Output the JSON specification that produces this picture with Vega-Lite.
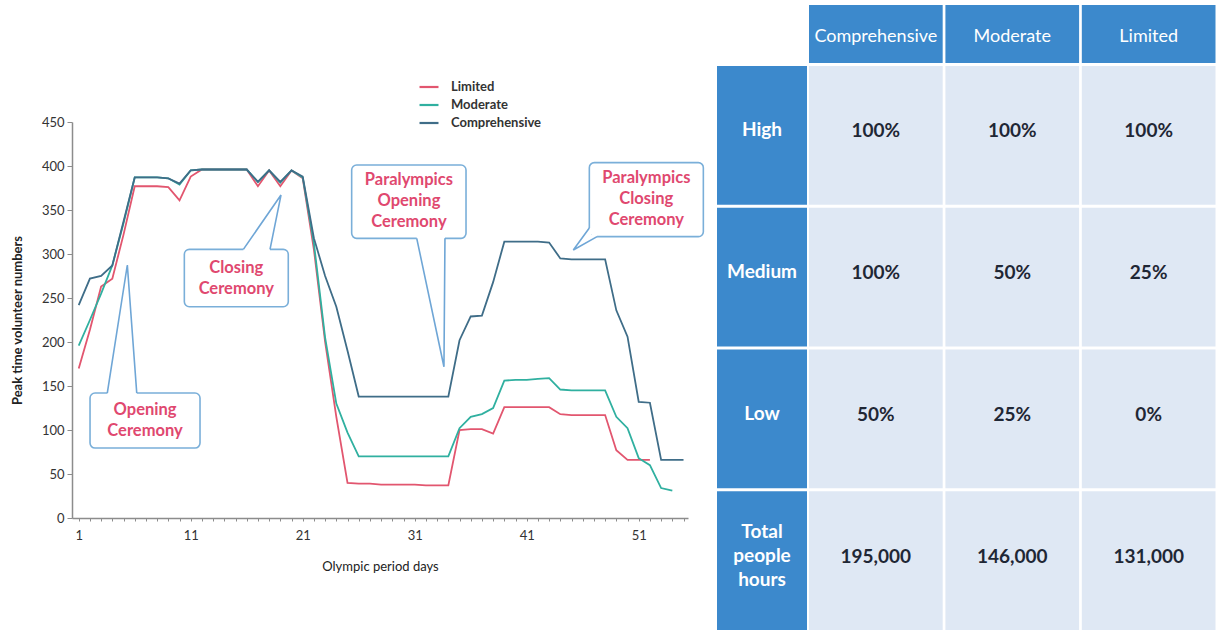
{
  "$schema": "https://vega.github.io/schema/vega-lite/v6.json",
  "width": 1147,
  "height": 396,
  "autosize": {"type": "none"},
  "padding": {"left": 72, "top": 122, "right": 0, "bottom": 112},
  "background": "white",
  "config": {"view": {"stroke": null}, "font": "Lato"},
  "datasets": {
    "series": [
      {"x":1,"Limited":170,"Moderate":196,"Comprehensive":242},
      {"x":2,"Limited":214,"Moderate":225,"Comprehensive":272},
      {"x":3,"Limited":263,"Moderate":255,"Comprehensive":275},
      {"x":4,"Limited":272,"Moderate":287,"Comprehensive":287},
      {"x":5,"Limited":322,"Moderate":335,"Comprehensive":337},
      {"x":6,"Limited":377,"Moderate":387,"Comprehensive":387},
      {"x":7,"Limited":377,"Moderate":387,"Comprehensive":387},
      {"x":8,"Limited":377,"Moderate":387,"Comprehensive":387},
      {"x":9,"Limited":376,"Moderate":386,"Comprehensive":386},
      {"x":10,"Limited":361,"Moderate":379,"Comprehensive":380},
      {"x":11,"Limited":388,"Moderate":395,"Comprehensive":395},
      {"x":12,"Limited":396,"Moderate":396,"Comprehensive":396},
      {"x":13,"Limited":396,"Moderate":396,"Comprehensive":396},
      {"x":14,"Limited":396,"Moderate":396,"Comprehensive":396},
      {"x":15,"Limited":396,"Moderate":396,"Comprehensive":396},
      {"x":16,"Limited":396,"Moderate":396,"Comprehensive":396},
      {"x":17,"Limited":377,"Moderate":382,"Comprehensive":382},
      {"x":18,"Limited":395,"Moderate":395,"Comprehensive":395},
      {"x":19,"Limited":377,"Moderate":381,"Comprehensive":382},
      {"x":20,"Limited":395,"Moderate":395,"Comprehensive":395},
      {"x":21,"Limited":386,"Moderate":387,"Comprehensive":388},
      {"x":22,"Limited":305,"Moderate":312,"Comprehensive":318},
      {"x":23,"Limited":200,"Moderate":205,"Comprehensive":275},
      {"x":24,"Limited":115,"Moderate":130,"Comprehensive":240},
      {"x":25,"Limited":40,"Moderate":97,"Comprehensive":190},
      {"x":26,"Limited":39,"Moderate":70,"Comprehensive":138},
      {"x":27,"Limited":39,"Moderate":70,"Comprehensive":138},
      {"x":28,"Limited":38,"Moderate":70,"Comprehensive":138},
      {"x":29,"Limited":38,"Moderate":70,"Comprehensive":138},
      {"x":30,"Limited":38,"Moderate":70,"Comprehensive":138},
      {"x":31,"Limited":38,"Moderate":70,"Comprehensive":138},
      {"x":32,"Limited":37,"Moderate":70,"Comprehensive":138},
      {"x":33,"Limited":37,"Moderate":70,"Comprehensive":138},
      {"x":34,"Limited":37,"Moderate":70,"Comprehensive":138},
      {"x":35,"Limited":100,"Moderate":102,"Comprehensive":202},
      {"x":36,"Limited":101,"Moderate":115,"Comprehensive":229},
      {"x":37,"Limited":101,"Moderate":118,"Comprehensive":230},
      {"x":38,"Limited":96,"Moderate":125,"Comprehensive":268},
      {"x":39,"Limited":126,"Moderate":156,"Comprehensive":314},
      {"x":40,"Limited":126,"Moderate":157,"Comprehensive":314},
      {"x":41,"Limited":126,"Moderate":157,"Comprehensive":314},
      {"x":42,"Limited":126,"Moderate":158,"Comprehensive":314},
      {"x":43,"Limited":126,"Moderate":159,"Comprehensive":313},
      {"x":44,"Limited":118,"Moderate":146,"Comprehensive":295},
      {"x":45,"Limited":117,"Moderate":145,"Comprehensive":294},
      {"x":46,"Limited":117,"Moderate":145,"Comprehensive":294},
      {"x":47,"Limited":117,"Moderate":145,"Comprehensive":294},
      {"x":48,"Limited":117,"Moderate":145,"Comprehensive":294},
      {"x":49,"Limited":77,"Moderate":115,"Comprehensive":236},
      {"x":50,"Limited":66,"Moderate":102,"Comprehensive":206},
      {"x":51,"Limited":66,"Moderate":68,"Comprehensive":132},
      {"x":52,"Limited":66,"Moderate":60,"Comprehensive":131},
      {"x":53,"Moderate":34,"Comprehensive":66},
      {"x":54,"Moderate":31,"Comprehensive":66},
      {"x":55,"Comprehensive":66}
    ],
    "boxes": [
      {"id":"A","x":2.01,"x2":11.83,"y":142.0,"y2":79.5},
      {"id":"B","x":10.43,"x2":19.71,"y":305.3,"y2":240.1},
      {"id":"C","x":25.37,"x2":35.58,"y":401.1,"y2":317.8},
      {"id":"D","x":46.59,"x2":56.77,"y":403.8,"y2":319.7}
    ],
    "gaps": [
      {"id":"A","o":1,"x":3.55,"y":142.0},{"id":"A","o":2,"x":6.18,"y":142.0},
      {"id":"B","o":1,"x":15.7,"y":305.3},{"id":"B","o":2,"x":18.08,"y":305.3},
      {"id":"C","o":1,"x":31.18,"y":317.8},{"id":"C","o":2,"x":33.7,"y":317.8},
      {"id":"D","o":1,"x":46.59,"y":329.5},{"id":"D","o":2,"x":46.59,"y":319.7},{"id":"D","o":3,"x":47.28,"y":319.7}
    ],
    "wedges": [
      {"id":"A","o":1,"x":3.55,"y":142.0},{"id":"A","o":2,"x":5.34,"y":287.5},{"id":"A","o":3,"x":6.18,"y":142.0},
      {"id":"B","o":1,"x":15.7,"y":305.3},{"id":"B","o":2,"x":19.06,"y":367.0},{"id":"B","o":3,"x":18.08,"y":305.3},
      {"id":"C","o":1,"x":31.18,"y":317.8},{"id":"C","o":2,"x":33.61,"y":171.9},{"id":"C","o":3,"x":33.7,"y":317.8},
      {"id":"D","o":1,"x":46.59,"y":329.5},{"id":"D","o":2,"x":45.16,"y":304.5},{"id":"D","o":3,"x":47.28,"y":319.7}
    ],
    "notes": [
      {"x":6.92,"y":122.7,"t":"Opening\nCeremony"},
      {"x":15.07,"y":284.1,"t":"Closing\nCeremony"},
      {"x":30.48,"y":384.1,"t":"Paralympics\nOpening\nCeremony"},
      {"x":51.68,"y":386.4,"t":"Paralympics\nClosing\nCeremony"}
    ],
    "headers": [
      {"col":"Comprehensive","r":"head"},
      {"col":"Moderate","r":"head"},
      {"col":"Limited","r":"head"}
    ],
    "rowlabels": [
      {"row":"High","c":"lab","label":"High"},
      {"row":"Medium","c":"lab","label":"Medium"},
      {"row":"Low","c":"lab","label":"Low"},
      {"row":"Total","c":"lab","label":"Total\npeople\nhours"}
    ],
    "cells": [
      {"row":"High","col":"Comprehensive","val":"100%"},
      {"row":"High","col":"Moderate","val":"100%"},
      {"row":"High","col":"Limited","val":"100%"},
      {"row":"Medium","col":"Comprehensive","val":"100%"},
      {"row":"Medium","col":"Moderate","val":"50%"},
      {"row":"Medium","col":"Limited","val":"25%"},
      {"row":"Low","col":"Comprehensive","val":"50%"},
      {"row":"Low","col":"Moderate","val":"25%"},
      {"row":"Low","col":"Limited","val":"0%"},
      {"row":"Total","col":"Comprehensive","val":"195,000"},
      {"row":"Total","col":"Moderate","val":"146,000"},
      {"row":"Total","col":"Limited","val":"131,000"}
    ]
  },
  "layer": [
    {
      "encoding": {
        "x": {
          "field": "x", "type": "quantitative",
          "scale": {"domain": [0.4, 55.4], "range": [0, 616], "nice": false, "zero": false},
          "axis": {
            "title": "Olympic period days",
            "values": [1,2,3,4,5,6,7,8,9,10,11,12,13,14,15,16,17,18,19,20,21,22,23,24,25,26,27,28,29,30,31,32,33,34,35,36,37,38,39,40,41,42,43,44,45,46,47,48,49,50,51,52,53,54,55],
            "labelExpr": "(datum.value - 1) % 10 === 0 ? datum.label : ''",
            "labelOverlap": false, "labelFlush": false, "grid": false,
            "tickSize": 3, "labelPadding": 8, "titlePadding": 18,
            "labelFontSize": 13, "titleFontSize": 13, "titleFontWeight": "normal",
            "labelColor": "#333333", "titleColor": "#222222",
            "domainColor": "#8c8c8c", "tickColor": "#8c8c8c", "domainWidth": 1.5
          }
        },
        "y": {
          "field": "y", "type": "quantitative",
          "scale": {"domain": [0, 450], "nice": false},
          "axis": {
            "title": "Peak time volunteer numbers",
            "values": [0,50,100,150,200,250,300,350,400,450],
            "grid": false, "tickSize": 5, "labelPadding": 3, "titlePadding": 17,
            "labelFontSize": 13, "titleFontSize": 13, "titleFontWeight": "bold",
            "labelColor": "#333333", "titleColor": "#222222",
            "domainColor": "#8c8c8c", "tickColor": "#8c8c8c", "domainWidth": 1.5
          }
        }
      },
      "layer": [
        {
          "data": {"name": "series"},
          "transform": [
            {"fold": ["Limited", "Moderate", "Comprehensive"], "as": ["s", "y"]},
            {"filter": "isValid(datum.y)"}
          ],
          "encoding": {
            "color": {
              "field": "s", "type": "nominal",
              "scale": {"domain": ["Limited", "Moderate", "Comprehensive"], "range": ["#e2566f", "#30b0a0", "#3f6d88"]},
              "legend": {
                "orient": "none", "legendX": 346, "legendY": -46, "title": null,
                "symbolType": "stroke", "symbolStrokeWidth": 2.2, "symbolSize": 360,
                "labelFontSize": 13, "labelFontWeight": "bold", "labelColor": "#333333",
                "labelOffset": 11, "rowPadding": 0
              }
            }
          },
          "layer": [
            {"transform": [{"filter": "datum.s === 'Limited'"}], "mark": {"type": "line", "strokeWidth": 1.8}},
            {"transform": [{"filter": "datum.s === 'Moderate'"}], "mark": {"type": "line", "strokeWidth": 1.8}},
            {"transform": [{"filter": "datum.s === 'Comprehensive'"}], "mark": {"type": "line", "strokeWidth": 1.8}}
          ]
        },
        {
          "data": {"name": "boxes"},
          "mark": {"type": "rect", "fill": "white", "stroke": "#7aafd9", "strokeWidth": 1.6, "cornerRadius": 5},
          "encoding": {"x2": {"field": "x2"}, "y2": {"field": "y2"}}
        },
        {
          "data": {"name": "gaps"},
          "mark": {"type": "line", "stroke": "white", "strokeWidth": 3.5},
          "encoding": {"detail": {"field": "id"}, "order": {"field": "o"}}
        },
        {
          "data": {"name": "wedges"},
          "mark": {"type": "line", "stroke": "#6fa6d6", "strokeWidth": 1.6},
          "encoding": {"detail": {"field": "id"}, "order": {"field": "o"}}
        },
        {
          "data": {"name": "notes"},
          "mark": {"type": "text", "lineBreak": "\n", "lineHeight": 21, "fontSize": 16.5, "fontWeight": "bold", "color": "#e0486f", "align": "center", "baseline": "middle"},
          "encoding": {"text": {"field": "t"}}
        }
      ]
    },
    {
      "layer": [
        {
          "data": {"name": "cells"},
          "encoding": {
            "x": {"field": "col", "type": "nominal", "scale": {"domain": ["Comprehensive", "Moderate", "Limited"], "range": [737, 1143.5], "paddingInner": 0.02, "paddingOuter": 0}, "axis": null},
            "y": {"field": "row", "type": "nominal", "scale": {"domain": ["High", "Medium", "Low", "Total"], "range": [-56, 508], "paddingInner": 0.02, "paddingOuter": 0}, "axis": null}
          },
          "layer": [
            {"mark": {"type": "rect", "fill": "#dfe8f4"}},
            {"mark": {"type": "text", "fontSize": 19, "fontWeight": "bold", "color": "#1f2735", "dy": -4}, "encoding": {"text": {"field": "val"}}}
          ]
        },
        {
          "data": {"name": "headers"},
          "encoding": {
            "x": {"field": "col", "type": "nominal", "scale": {"domain": ["Comprehensive", "Moderate", "Limited"], "range": [737, 1143.5], "paddingInner": 0.02, "paddingOuter": 0}, "axis": null},
            "y": {"field": "r", "type": "nominal", "scale": {"domain": ["head"], "range": [-117, -59], "paddingInner": 0, "paddingOuter": 0}, "axis": null}
          },
          "layer": [
            {"mark": {"type": "rect", "fill": "#3c89cc"}},
            {"mark": {"type": "text", "fontSize": 18, "color": "white", "dy": 3}, "encoding": {"text": {"field": "col"}}}
          ]
        },
        {
          "data": {"name": "rowlabels"},
          "encoding": {
            "x": {"field": "c", "type": "nominal", "scale": {"domain": ["lab"], "range": [645, 735], "paddingInner": 0, "paddingOuter": 0}, "axis": null},
            "y": {"field": "row", "type": "nominal", "scale": {"domain": ["High", "Medium", "Low", "Total"], "range": [-56, 508], "paddingInner": 0.02, "paddingOuter": 0}, "axis": null}
          },
          "layer": [
            {"mark": {"type": "rect", "fill": "#3c89cc"}},
            {"transform": [{"filter": "datum.row !== 'Total'"}], "mark": {"type": "text", "fontSize": 19, "fontWeight": "bold", "color": "white", "dy": -5}, "encoding": {"text": {"field": "label"}}},
            {"transform": [{"filter": "datum.row === 'Total'"}], "mark": {"type": "text", "fontSize": 19, "fontWeight": "bold", "color": "white", "dy": -29, "lineBreak": "\n", "lineHeight": 24}, "encoding": {"text": {"field": "label"}}}
          ]
        }
      ],
      "resolve": {"scale": {"x": "independent", "y": "independent"}}
    }
  ],
  "resolve": {"scale": {"x": "independent", "y": "independent"}}
}
